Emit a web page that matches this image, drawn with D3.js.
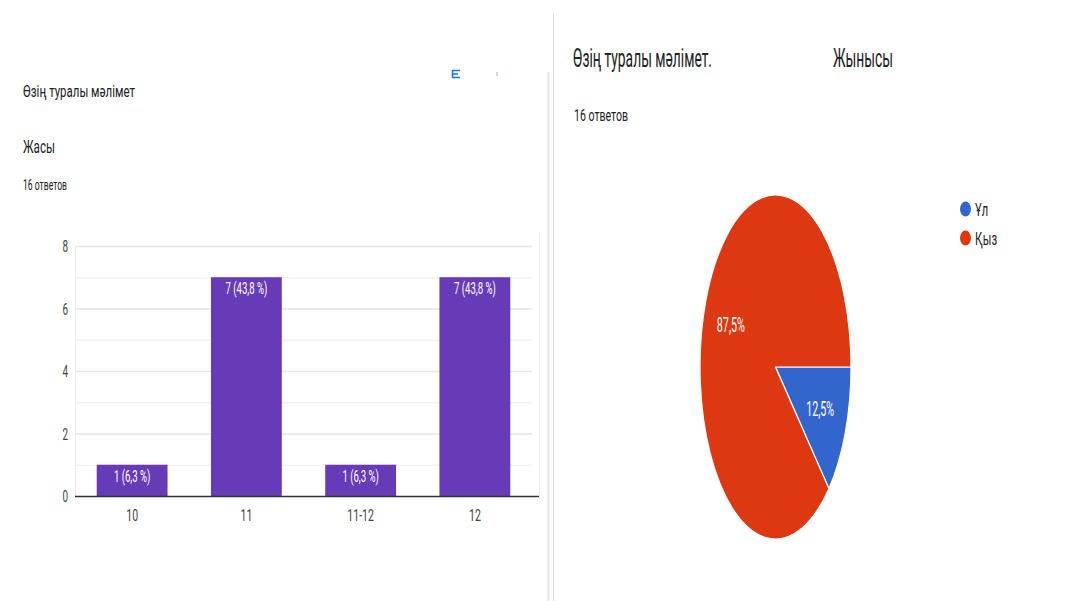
<!DOCTYPE html>
<html><head><meta charset="utf-8">
<script src="https://cdn.jsdelivr.net/npm/d3@7"></script>
<style>html,body{margin:0;padding:0;background:#fff;}svg{display:block;font-family:Roboto,"Noto Sans",sans-serif;}</style>
</head><body>
<svg id="c" width="1067" height="601"></svg>
<script>
// ---- data ----
const ageCategories = ["10", "11", "11-12", "12"];
const ageCounts = [1, 7, 1, 7];
const agePercents = ["6,3", "43,8", "6,3", "43,8"];
const yTicks = [0, 2, 4, 6, 8];
const genderLabels = ["Ұл", "Қыз"];
const genderValues = [2, 14];
const genderPercentLabels = ["12,5%", "87,5%"];
const genderColors = ["#3366cc", "#dc3912"];
const responses = "16 ответов";

const svg = d3.select("#c");

function fit(t, w) {
  t.attr("textLength", w).attr("lengthAdjust", "spacingAndGlyphs");
  return t;
}
function squeeze(t, k) {
  t.each(function () {
    const n = this.getComputedTextLength();
    d3.select(this).attr("textLength", n * k).attr("lengthAdjust", "spacingAndGlyphs");
  });
  return t;
}

// ---- separators ----
svg.append("line").attr("x1", 548.5).attr("x2", 548.5).attr("y1", 72).attr("y2", 601)
  .attr("stroke", "#e6e4f2").attr("stroke-width", 2);
svg.append("line").attr("x1", 553.5).attr("x2", 553.5).attr("y1", 13).attr("y2", 601)
  .attr("stroke", "#dadce0").attr("stroke-width", 1);

// small icon top right of left card
svg.append("path").attr("d", "M452,70.5h8M452,74h6M452,77.5h8M452.5,70v8")
  .attr("stroke", "#1a73e8").attr("stroke-width", 1.6).attr("fill", "none");
svg.append("rect").attr("x", 496).attr("y", 72).attr("width", 2).attr("height", 4).attr("fill", "#c6d6f7");

// ---- left titles ----
fit(svg.append("text").attr("x", 23).attr("y", 97).attr("font-size", 17).attr("fill", "#202124")
  .text("Өзің туралы мәлімет"), 112);
fit(svg.append("text").attr("x", 23).attr("y", 153).attr("font-size", 18).attr("fill", "#202124")
  .text("Жасы"), 32);
fit(svg.append("text").attr("x", 23).attr("y", 190).attr("font-size", 14).attr("fill", "#202124")
  .text(responses), 44);

// ---- bar chart ----
const x = d3.scaleBand().domain(ageCategories).range([75, 532]).paddingInner(0.38).paddingOuter(0.19);
const y = d3.scaleLinear().domain([0, 8]).range([496, 246]);

const grid = svg.append("g");
grid.selectAll("line.g").data(d3.range(1, 9)).join("line")
  .attr("x1", 75).attr("x2", 532)
  .attr("y1", d => y(d) + 0.5).attr("y2", d => y(d) + 0.5)
  .attr("stroke", d => d % 2 === 0 ? "#e6e6e6" : "#f2f2f2").attr("stroke-width", 1.5);
svg.append("line").attr("x1", 75.5).attr("x2", 75.5).attr("y1", y(8)).attr("y2", y(0))
  .attr("stroke", "#ececec");
svg.append("line").attr("x1", 539.5).attr("x2", 539.5).attr("y1", 232).attr("y2", 500)
  .attr("stroke", "#eeeeee");

// y axis labels
const yAxis = svg.append("g").attr("transform", "translate(68,0)")
  .call(d3.axisLeft(y).tickValues(yTicks).tickSize(0).tickPadding(0));
yAxis.select(".domain").remove();
yAxis.selectAll("text").attr("font-size", 16).attr("fill", "#444").attr("font-family", "Roboto")
  .attr("dy", "0.36em");
squeeze(yAxis.selectAll("text"), 0.62);

// bars
svg.selectAll("rect.bar").data(ageCounts).join("rect").attr("class", "bar")
  .attr("x", (d, i) => x(ageCategories[i]))
  .attr("y", d => y(d))
  .attr("width", x.bandwidth())
  .attr("height", d => y(0) - y(d))
  .attr("fill", "#673ab7");

// baseline
svg.append("line").attr("x1", 75).attr("x2", 539).attr("y1", y(0) + 0.5).attr("y2", y(0) + 0.5)
  .attr("stroke", "#333").attr("stroke-width", 1.6);

// x axis labels
const xAxis = svg.append("g").attr("transform", `translate(0,${y(0)})`)
  .call(d3.axisBottom(x).tickSize(0).tickPadding(0));
xAxis.select(".domain").remove();
xAxis.selectAll("text").attr("font-size", 17).attr("fill", "#444").attr("font-family", "Roboto")
  .attr("dy", 25);
squeeze(xAxis.selectAll("text"), 0.62);

// bar value labels
const vl = svg.selectAll("text.vl").data(ageCounts).join("text").attr("class", "vl")
  .attr("x", (d, i) => x(ageCategories[i]) + x.bandwidth() / 2)
  .attr("y", d => Math.min(y(d) + 11, (y(d) + y(0)) / 2))
  .attr("dy", "0.36em")
  .attr("text-anchor", "middle").attr("font-size", 16).attr("fill", "#fff")
  .text((d, i) => `${d} (${agePercents[i]} %)`);
squeeze(vl, 0.6);

// ---- right titles ----
fit(svg.append("text").attr("x", 573).attr("y", 67).attr("font-size", 25).attr("fill", "#202124")
  .text("Өзің туралы мәлімет."), 139);
fit(svg.append("text").attr("x", 833).attr("y", 67).attr("font-size", 25).attr("fill", "#202124")
  .text("Жынысы"), 60);
fit(svg.append("text").attr("x", 574).attr("y", 121).attr("font-size", 17).attr("fill", "#202124")
  .text(responses), 54);

// ---- pie chart ----
const cx = 775.5, cy = 367, R = 172, sx = 75.5 / 172;
const pie = d3.pie().sort(null).startAngle(Math.PI / 2).endAngle(Math.PI / 2 + 2 * Math.PI);
const arcs = pie(genderValues);
const arc = d3.arc().innerRadius(0).outerRadius(R);
const labelArc = d3.arc().innerRadius(R * 0.64).outerRadius(R * 0.64);

const pg = svg.append("g").attr("transform", `translate(${cx},${cy}) scale(${sx},1)`);
pg.selectAll("path").data(arcs).join("path")
  .attr("d", arc)
  .attr("fill", (d, i) => genderColors[i])
  .attr("stroke", "#fff").attr("stroke-width", 1.2)
  .attr("vector-effect", "non-scaling-stroke");

const pl = svg.selectAll("text.pl").data(arcs).join("text").attr("class", "pl")
  .attr("x", d => cx + labelArc.centroid(d)[0] * sx)
  .attr("y", d => cy + labelArc.centroid(d)[1])
  .attr("dy", "0.36em").attr("text-anchor", "middle")
  .attr("font-size", 20).attr("fill", "#fff")
  .text((d, i) => genderPercentLabels[i]);
pl.attr("textLength", 28).attr("lengthAdjust", "spacingAndGlyphs");

// legend
const lg = svg.selectAll("g.lg").data(genderLabels).join("g").attr("class", "lg")
  .attr("transform", (d, i) => `translate(965.5,${209 + i * 29})`);
lg.append("ellipse").attr("rx", 5.5).attr("ry", 7.5).attr("fill", (d, i) => genderColors[i]);
const lt = lg.append("text").attr("x", 9.5).attr("y", 7).attr("font-size", 18).attr("fill", "#222")
  .text(d => d);
squeeze(lt, 0.62);
</script>
</body></html>
